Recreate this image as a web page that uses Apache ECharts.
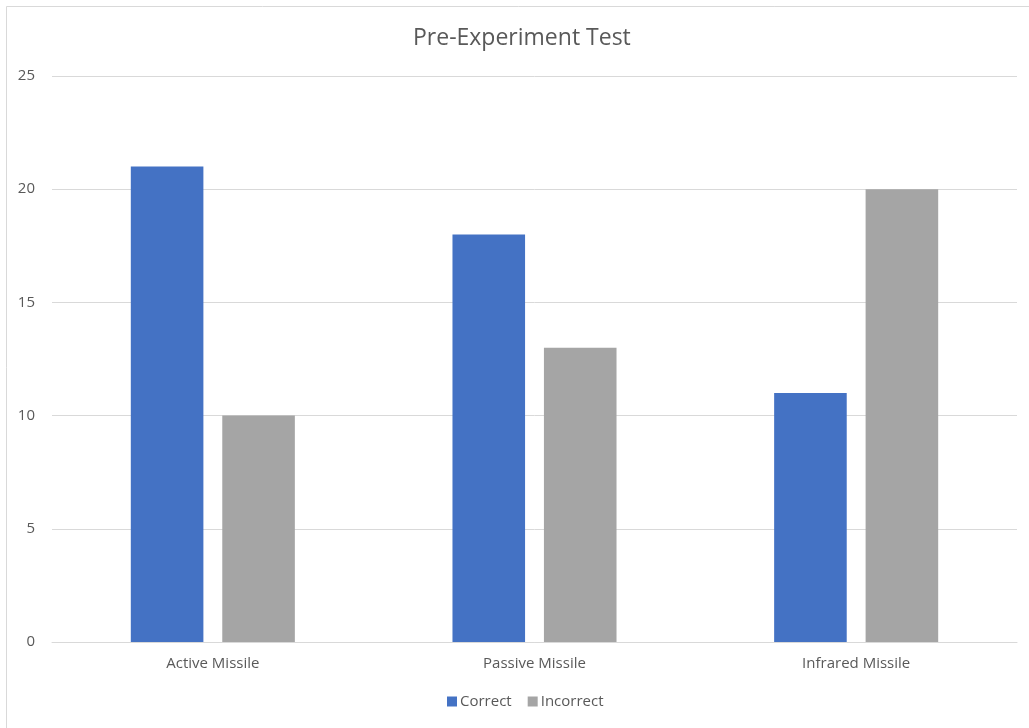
<!DOCTYPE html>
<html>
<head>
<meta charset="utf-8">
<script src="https://cdn.jsdelivr.net/npm/echarts@6/dist/echarts.min.js"></script>
<style>
  html, body { margin: 0; padding: 0; background: #fff; }
  #chart { width: 1029px; height: 728px; }
</style>
</head>
<body>
<div id="chart"></div>
<script>
// Pre-experiment test results per missile type
const categories = ['Active Missile', 'Passive Missile', 'Infrared Missile'];
const correct = [21, 18, 11];
const incorrect = [10, 13, 20];
const yTicks = { min: 0, max: 25, interval: 5 };

const textColor = '#595959';
const fontFamily = '"Open Sans", "Liberation Sans", sans-serif';

const chart = echarts.init(document.getElementById('chart'), null, { renderer: 'canvas' });
chart.setOption({
  backgroundColor: '#ffffff',
  animation: false,
  graphic: [{
    type: 'rect',
    shape: { x: 6.5, y: 6.5, width: 1040, height: 740 },
    style: { fill: 'none', stroke: '#d9d9d9', lineWidth: 1 },
    silent: true
  }],
  title: {
    text: 'Pre-Experiment Test',
    left: 408,
    top: 22,
    textStyle: { color: textColor, fontSize: 23, fontWeight: 'normal', fontFamily: fontFamily }
  },
  legend: {
    data: ['Correct', 'Incorrect'],
    bottom: 14,
    left: 442,
    icon: 'rect',
    itemWidth: 10,
    itemHeight: 10,
    itemGap: 16,
    textStyle: { color: textColor, fontSize: 15, fontFamily: fontFamily, padding: [0, 0, 0, -2] }
  },
  grid: { left: 52, right: 12, top: 76, bottom: 86, containLabel: false },
  xAxis: {
    type: 'category',
    data: categories,
    axisLine: { lineStyle: { color: '#d9d9d9' } },
    axisTick: { show: false },
    axisLabel: { color: textColor, fontSize: 15, fontFamily: fontFamily, margin: 14 }
  },
  yAxis: {
    type: 'value',
    min: yTicks.min,
    max: yTicks.max,
    interval: yTicks.interval,
    axisLine: { show: false },
    axisTick: { show: false },
    splitLine: { lineStyle: { color: '#d9d9d9' } },
    axisLabel: { color: textColor, fontSize: 15, fontFamily: fontFamily, margin: 17, align: 'right' }
  },
  series: [
    {
      name: 'Correct',
      type: 'bar',
      data: correct,
      itemStyle: { color: '#4472C4' },
      barGap: '26%',
      barCategoryGap: '49%'
    },
    {
      name: 'Incorrect',
      type: 'bar',
      data: incorrect,
      itemStyle: { color: '#A5A5A5' },
      barGap: '26%',
      barCategoryGap: '49%'
    }
  ]
});
</script>
</body>
</html>
